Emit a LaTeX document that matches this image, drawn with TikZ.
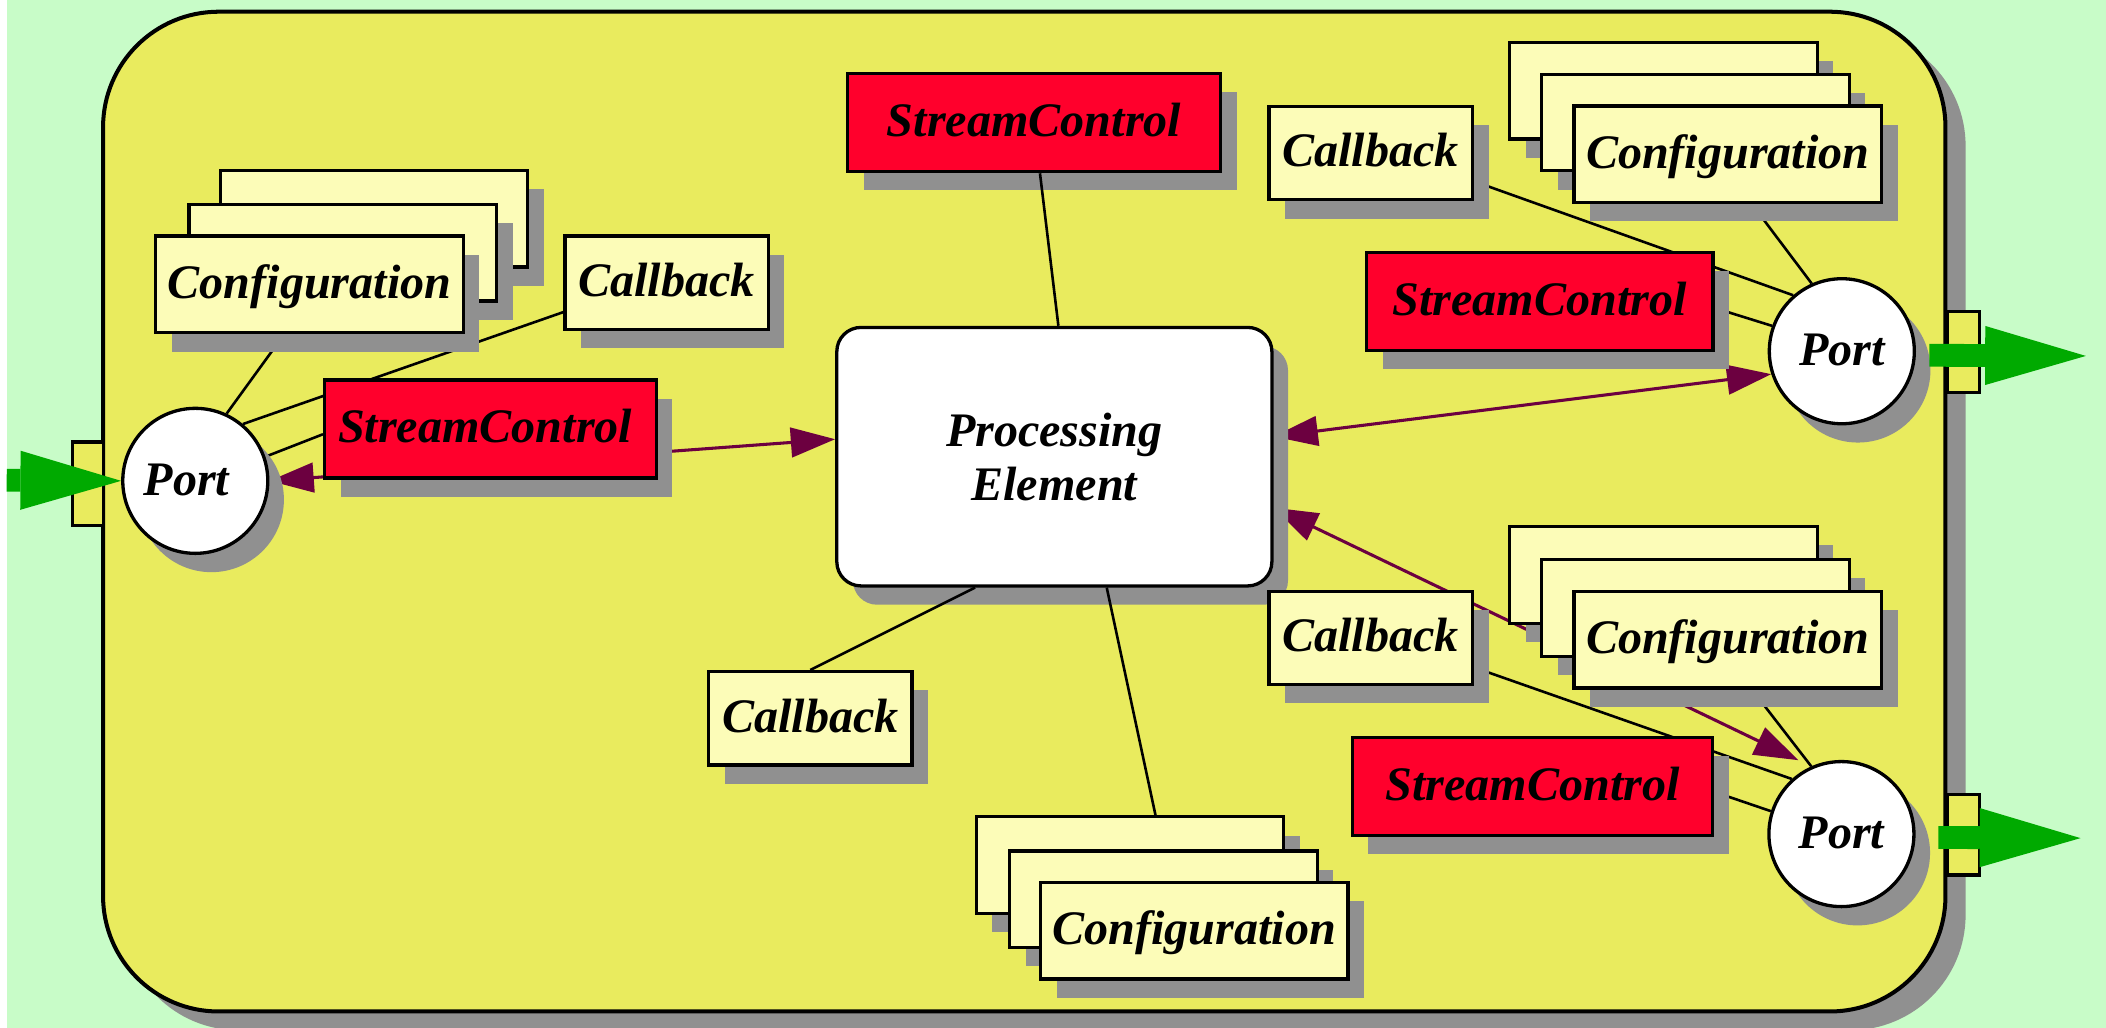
\documentclass[tikz,border=0pt]{standalone}
\usepackage{fontspec}
\setmainfont{Liberation Serif}
\usetikzlibrary{calc,shadows,arrows.meta}

\definecolor{mint}{HTML}{C8FCC8}
\definecolor{unityellow}{HTML}{E9EB5E}
\definecolor{cardyellow}{HTML}{FCFCB8}
\definecolor{ctlred}{HTML}{FF002C}
\definecolor{shadowgray}{HTML}{909090}
\definecolor{iogreen}{HTML}{00AA00}
\definecolor{flowpurple}{HTML}{6C0040}

\pgfdeclarelayer{base}
\pgfdeclarelayer{links}
\pgfdeclarelayer{top}
\pgfsetlayers{base,links,main,top}

\begin{document}
\begin{tikzpicture}[x=0.02cm,y=-0.02cm,
  font=\fontsize{20.4pt}{23pt}\selectfont\bfseries\itshape,
  shadowed/.style={general shadow={fill=shadowgray, shadow xshift=0.24cm, shadow yshift=-0.28cm}},
  unit/.style={draw, line width=1.7pt, fill=unityellow, rounded corners=1.72cm,
    inner sep=0pt, minimum width=27.44cm, minimum height=14.89cm,
    general shadow={fill=shadowgray, shadow xshift=0.3cm, shadow yshift=-0.28cm}},
  elem/.style={shadowed, draw, line width=1.4pt, fill=white, rounded corners=0.36cm,
    inner sep=0pt, minimum width=6.48cm, minimum height=3.85cm, align=center},
  card/.style={shadowed, draw, line width=1.4pt, fill=cardyellow, inner sep=0pt,
    minimum width=4.58cm, minimum height=1.44cm, text depth=0.25em},
  callbk/.style={shadowed, draw, line width=1.4pt, fill=cardyellow, inner sep=0pt,
    minimum width=3.03cm, minimum height=1.39cm, text depth=0.25em},
  streamctl/.style={shadowed, draw, line width=1.4pt, fill=ctlred, inner sep=0pt,
    minimum height=1.46cm, text depth=0.25em},
  port/.style={shadowed, circle, draw, line width=1.4pt, fill=white, inner sep=0pt,
    minimum size=2.16cm, text depth=0.1em},
  joint/.style={draw, line width=1.4pt, fill=unityellow, inner sep=0pt,
    minimum width=0.48cm, minimum height=1.2cm},
  link/.style={line width=1.1pt},
  flow/.style={draw=flowpurple, line width=1.3pt,
    {Triangle[length=0.66cm,width=0.44cm]}-{Triangle[length=0.66cm,width=0.44cm]}},
  io/.style={draw=iogreen, line width=0.34cm,
    -{Triangle[length=1.5cm,width=0.88cm,line width=0pt]}}
]
\useasboundingbox (0,0) rectangle (1568,765);

% backdrop, the unit body and its edge connectors
\begin{pgfonlayer}{base}
  \fill[white] (0,0) rectangle (1568,765);
  \fill[mint] (5,0) rectangle (1568,765);
  \node[unit] (unit) at (762.6,380.9) {};
  \node[joint, minimum width=0.46cm, minimum height=1.24cm] (jL) at (65.5,360) {};
  \node[joint] (jTR) at (1461.8,262) {};
  \node[joint] (jBR) at (1462,621.4) {};
\end{pgfonlayer}

% central processing element
\node[elem] (pe) at (785,340) {Processing\\Element};
\node[streamctl, minimum width=5.56cm] (scC) at (769.9,91.3) {StreamControl};
\node[callbk] (cbC) at (603.3,534.8) {Callback};
\node[card] (cfgC1) at (841.3,644.1) {};
\node[card] (cfgC2) at (866.3,669.5) {};
\node[card] (cfgC3) at (889.1,692.8) {Configuration};

% input port group
\node[card] (cfgL1) at (278.4,162.9) {};
\node[card] (cfgL2) at (255.1,188) {};
\node[card] (cfgL3) at (230.5,211.8) {Configuration};
\node[callbk] (cbL) at (496.3,210.4) {Callback};
\node[streamctl, minimum width=4.94cm] (scL) at (365.2,319.3) {\kern-0.16cm StreamControl};
\node[port] (portL) at (145.4,358) {\kern-0.26cm Port};

% upper output port group
\node[callbk] (cbTR) at (1020.5,114) {Callback};
\node[card] (cfgTR1) at (1238.6,67.4) {};
\node[card] (cfgTR2) at (1262.4,91.2) {};
\node[card] (cfgTR3) at (1286.4,114.8) {Configuration};
\node[streamctl, minimum width=5.16cm] (scTR) at (1146.4,224.3) {StreamControl};
\node[port] (portTR) at (1371.3,261.5) {Port};

% lower output port group
\node[callbk] (cbBR) at (1020.5,474.9) {Callback};
\node[card] (cfgBR1) at (1238.6,428.1) {};
\node[card] (cfgBR2) at (1262.4,452.6) {};
\node[card] (cfgBR3) at (1286.4,476.2) {Configuration};
\node[streamctl, minimum width=5.37cm] (scBR) at (1141,585.6) {StreamControl};
\node[port] (portBR) at (1371,621) {Port};

% port associations and data flows, beneath the boxes and their shadows
\begin{pgfonlayer}{links}
  \draw[link] ($(cfgL3.south)+(-19,0)$) -- (portL.65);
  \draw[link] (portL.50) -- ($(cbL.west)+(0,22)$);
  \draw[link] (portL.19) -- ($(scL.west)+(0,4)$);

  \draw[link] ($(cbTR.east)+(0,21)$) -- (portTR.131);
  \draw[link] ($(cfgTR3.south)+(18,0)$) -- (portTR.114);
  \draw[link] ($(scTR.east)+(0,5)$) -- (portTR.160);

  \draw[link] ($(cbBR.east)+(0,22)$) -- (portBR.132);
  \draw[link] ($(cfgBR3.south)+(18,0)$) -- (portBR.114);
  \draw[link] ($(scBR.east)+(0,4)$) -- (portBR.162);

  \draw[flow] (portL.east) -- ($(pe.west)+(0,-13)$);
  \draw[flow] ($(pe.east)+(0,-15)$) -- (portTR.198);
  \draw[flow] ($(pe.east)+(0,38)$) -- ($(portBR.center)+(-32,-55)$);
\end{pgfonlayer}

% element associations (over the shadows), stream input and outputs
\begin{pgfonlayer}{top}
  \draw[link] ($(scC.south)+(4.4,0)$) -- ($(pe.north)+(3,0)$);
  \draw[link] ($(pe.south)+(-59,0)$) -- (cbC.north);
  \draw[link] ($(pe.south)+(39,0)$) -- ($(cfgC1.north)+(19,0)$);

  \coordinate (inL) at (5,357.5);
  \coordinate (outTR) at (1553,265);
  \coordinate (outBR) at (1549,624);
  \draw[io] (inL) -- (portL.west);
  \draw[io] ($(portTR.east)+(10,3)$) -- (outTR);
  \draw[io] ($(portBR.east)+(17,2.5)$) -- (outBR);
\end{pgfonlayer}
\end{tikzpicture}
\end{document}
